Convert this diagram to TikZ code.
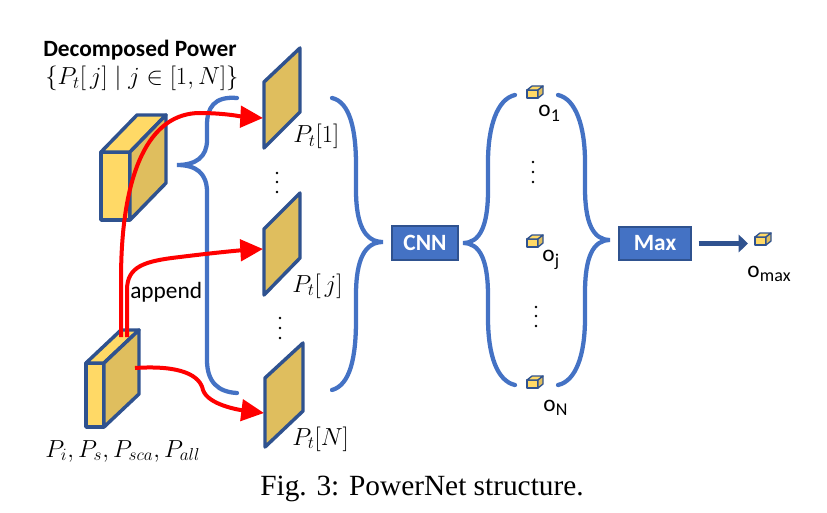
\RequirePackage{fix-cm}
\documentclass[tikz,border=0pt]{standalone}
\usepackage{fontspec}
\setmainfont{Liberation Serif}
\newfontfamily\calib{Carlito}
\usetikzlibrary{arrows.meta}
\definecolor{edgeblue}{HTML}{2F528F}
\definecolor{braceblue}{HTML}{4472C4}
\definecolor{lightgold}{HTML}{FFD966}
\definecolor{darkgold}{HTML}{DFBE5E}
\tikzset{
  face/.style={draw=edgeblue, line width=2.6pt, line join=round},
  brace/.style={draw=braceblue, line width=3.2pt, line cap=round},
  redarrow/.style={draw=red, line width=3pt, -{Triangle[length=17pt,width=16pt]}},
  bluearrow/.style={draw=edgeblue, line width=4pt, -{Triangle[length=7pt,width=13pt]}},
  opbox/.style={fill=braceblue, draw=edgeblue, line width=1.5pt, text=white,
    font=\calib\bfseries\fontsize{17.5}{20}\selectfont, inner sep=0pt},
  cal/.style={font=\calib\fontsize{17.5}{20}\selectfont},
  mathlbl/.style={font=\fontsize{18.5}{21}\selectfont, inner sep=0pt},
  minicube/.pic={
    \filldraw[fill=lightgold, draw=edgeblue, line width=1pt, line join=round] (0,0) rectangle (11,-8);
    \filldraw[fill=lightgold, draw=edgeblue, line width=1pt, line join=round] (0,-8) -- (5,-12) -- (16,-12) -- (11,-8) -- cycle;
    \filldraw[fill=darkgold, draw=edgeblue, line width=1pt, line join=round] (11,0) -- (16,-4) -- (16,-12) -- (11,-8) -- cycle;
  }
}
\newcommand\osub[1]{o\kern0.3pt\raisebox{-3.5pt}{\fontsize{13.5}{15}\selectfont #1}}
\begin{document}
\begin{tikzpicture}[x={(0.75pt,0)}, y={(0,-0.75pt)}]
\useasboundingbox (0,0) rectangle (827,513);

% ---- top 3D box (decomposed power)
\filldraw[face, fill=lightgold] (101,152) rectangle (130,220);
\filldraw[face, fill=lightgold] (101,152) -- (137,115) -- (166,115) -- (130,152) -- cycle;
\filldraw[face, fill=darkgold] (130,152) -- (166,115) -- (166,183) -- (130,220) -- cycle;

% ---- bottom 3D box (inputs)
\filldraw[face, fill=lightgold] (86,363) rectangle (104,427);
\filldraw[face, fill=lightgold] (86,363) -- (121,330) -- (139,330) -- (104,363) -- cycle;
\filldraw[face, fill=darkgold] (104,363) -- (139,330) -- (139,394) -- (104,427) -- cycle;

% ---- panels
\filldraw[face, fill=darkgold] (264,82) -- (300,48) -- (300,112) -- (264,148) -- cycle;
\filldraw[face, fill=darkgold] (264,229) -- (300,193) -- (300,258) -- (264,295) -- cycle;
\filldraw[face, fill=darkgold] (265,378) -- (303,343) -- (303,411) -- (265,447) -- cycle;

\coordinate (p1) at (263,118);
\coordinate (pj) at (263,249);
\coordinate (pN) at (264,413);
\coordinate (in1) at (121,337);
\coordinate (in2) at (127,337);
\coordinate (in3) at (135,368);

% ---- labels
\node[anchor=base west, font=\calib\bfseries\fontsize{17.5}{20}\selectfont, inner sep=0pt] (title) at (43,57) {Decomposed Power};
\node[anchor=base west, mathlbl] (set) at (45,85) {$\{P_t[\,j]\mid j\in[1,N]\}$};
\node[anchor=base west, mathlbl] (l1) at (293,143) {$P_t[1]$};
\node[anchor=base west, mathlbl] (lj) at (292,292) {$P_t[\,j]$};
\node[anchor=base west, mathlbl] (lN) at (292,445) {$P_t[N]$};
\node[anchor=base west, mathlbl] (lin) at (45,457) {$P_i,P_s,P_{sca},P_{all}$};
\node[anchor=base west, cal, inner sep=0pt] (app) at (130,298) {append};

% ---- ellipsis dots
\foreach \x/\y in {277/173, 277/182, 277/192, 280/318, 280/328, 280/338,
                   533/162, 533/172, 533/182, 536/307, 536/316, 536/326}
  \fill (\x,\y) circle (1.3);

% ---- braces
\draw[brace] (237,98) .. controls (214,96) and (207,108) .. (207,125) -- (207,140)
  .. controls (207,157) and (196,165) .. (177,165)
  .. controls (196,165) and (207,173) .. (207,192) -- (207,360)
  .. controls (207,382) and (218,392) .. (237,393);
\draw[brace] (332,98) .. controls (350,102) and (356,130) .. (356,165) -- (356,190)
  .. controls (356,225) and (365,242) .. (383,242)
  .. controls (365,242) and (356,259) .. (356,295) -- (356,320)
  .. controls (356,358) and (350,385) .. (332,390);
\draw[brace] (515,95) .. controls (497,99) and (488,127) .. (488,162) -- (488,190)
  .. controls (488,226) and (480,243) .. (463,243)
  .. controls (480,243) and (488,260) .. (488,296) -- (488,318)
  .. controls (488,355) and (497,381) .. (515,385);
\draw[brace] (558,95) .. controls (576,99) and (585,127) .. (585,162) -- (585,188)
  .. controls (585,223) and (593,240) .. (610,240)
  .. controls (593,240) and (585,257) .. (585,293) -- (585,318)
  .. controls (585,355) and (576,381) .. (558,385);

% ---- operator boxes
\node[opbox, minimum width=49.5pt, minimum height=25.5pt] (cnn) at (425,243) {CNN};
\node[opbox, minimum width=54pt, minimum height=24.75pt] (max) at (655,243.5) {Max};

% ---- output cubes and labels
\pic at (527,98) {minicube};
\pic at (527,247) {minicube};
\pic at (527,388) {minicube};
\pic at (755,245) {minicube};
\coordinate (omax) at (748,243.5);
\node[anchor=base west, cal, inner sep=0pt] (o1) at (538,117) {\osub{1}};
\node[anchor=base west, cal, inner sep=0pt] (oj) at (542,262) {\osub{j}};
\node[anchor=base west, cal, inner sep=0pt] (oN) at (543,411) {\osub{N}};
\node[anchor=base west, cal, inner sep=0pt] (om) at (747,277) {\osub{max}};

\draw[bluearrow, shorten <=5pt] (max.east) -- (omax);

% ---- red append arrows
\draw[redarrow] (in1) -- (121,280) .. controls (121,170) and (150,113) .. (200,113)
  .. controls (225,113) and (245,117) .. (p1);
\draw[redarrow] (in2) -- (127,290) .. controls (127,266) and (145,261) .. (180,257)
  .. controls (220,252) and (245,250) .. (pj);
\draw[redarrow] (in3) .. controls (180,365) and (200,375) .. (203,390)
  .. controls (208,405) and (240,410) .. (pN);

% ---- caption
\node[anchor=base, font=\fontsize{22}{26}\selectfont, inner sep=0pt] (cap) at (422,495) {Fig. 3: PowerNet structure.};
\end{tikzpicture}
\end{document}
